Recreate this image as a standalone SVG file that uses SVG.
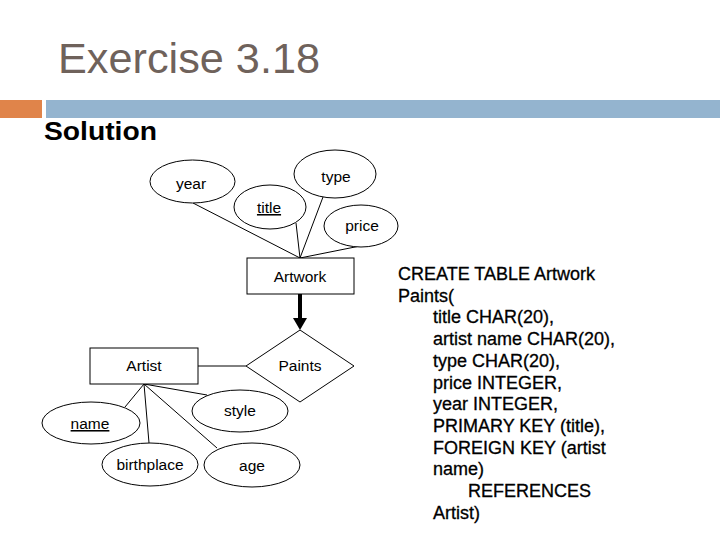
<svg xmlns="http://www.w3.org/2000/svg" width="720" height="540" viewBox="0 0 720 540">
<defs>
<style>
.lbl{font-family:"Liberation Sans",Arial,sans-serif;font-size:15.5px;fill:#000;text-anchor:middle}
.u{text-decoration:underline}
.shape{fill:#fff;stroke:#000;stroke-width:1}
.conn{stroke:#000;stroke-width:1;fill:none}
.sql{font-family:"Liberation Sans",Arial,sans-serif;font-size:18px;fill:#000;stroke:#000;stroke-width:0.3}
</style>
</defs>
<rect width="720" height="540" fill="#fff"/>
<text x="58" y="73" font-family="'Liberation Sans',Arial,sans-serif" font-size="43" fill="#6f625b" textLength="262" lengthAdjust="spacingAndGlyphs">Exercise 3.18</text>
<rect x="0" y="100" width="42" height="18" fill="#e0844a"/>
<rect x="46" y="100" width="674" height="18" fill="#94b4cf"/>
<text x="44" y="140" font-family="'Liberation Sans',Arial,sans-serif" font-size="26" font-weight="bold" fill="#000" textLength="113" lengthAdjust="spacingAndGlyphs">Solution</text>

<g id="connectors">
<line class="conn" x1="193" y1="203" x2="300" y2="258"/>
<line class="conn" x1="296" y1="223" x2="300" y2="258"/>
<line class="conn" x1="323" y1="197" x2="300" y2="258"/>
<line class="conn" x1="360" y1="246" x2="300" y2="258"/>
<line x1="300" y1="294" x2="300" y2="319" stroke="#000" stroke-width="4"/>
<polygon points="293,318 307,318 300,330" fill="#000"/>
<line class="conn" x1="198" y1="366" x2="246" y2="366"/>
<line class="conn" x1="144" y1="384" x2="125" y2="407"/>
<line class="conn" x1="144" y1="384" x2="149" y2="443"/>
<line class="conn" x1="144" y1="384" x2="217" y2="448"/>
<line class="conn" x1="144" y1="384" x2="207" y2="395"/>
</g>

<g id="year"><ellipse class="shape" cx="192.5" cy="181.5" rx="42.5" ry="21.5"/><text class="lbl" x="191" y="189">year</text></g>
<g id="type"><ellipse class="shape" cx="335" cy="174" rx="41" ry="24"/><text class="lbl" x="336" y="182">type</text></g>
<g id="title"><ellipse class="shape" cx="270" cy="207" rx="36" ry="22"/><text class="lbl u" x="269" y="213">title</text></g>
<g id="price"><ellipse class="shape" cx="361" cy="226" rx="37" ry="21"/><text class="lbl" x="362" y="231">price</text></g>
<g id="artwork"><rect class="shape" x="247" y="258" width="107" height="36"/><text class="lbl" x="300" y="282">Artwork</text></g>
<g id="paints"><polygon class="shape" points="300,330 354,366 300,402 246,366"/><text class="lbl" x="300" y="371">Paints</text></g>
<g id="artist"><rect class="shape" x="90" y="348" width="108" height="36"/><text class="lbl" x="144" y="371">Artist</text></g>
<g id="name"><ellipse class="shape" cx="91" cy="423" rx="49" ry="21"/><text class="lbl u" x="90" y="429">name</text></g>
<g id="style"><ellipse class="shape" cx="240" cy="411" rx="48" ry="21"/><text class="lbl" x="240" y="416">style</text></g>
<g id="birthplace"><ellipse class="shape" cx="150" cy="464.5" rx="48" ry="21.5"/><text class="lbl" x="150" y="470">birthplace</text></g>
<g id="age"><ellipse class="shape" cx="252" cy="465" rx="48" ry="22"/><text class="lbl" x="252" y="471">age</text></g>

<g id="sql">
<text class="sql" x="398" y="280">CREATE TABLE Artwork</text>
<text class="sql" x="398" y="301.7">Paints(</text>
<text class="sql" x="433" y="323.4">title CHAR(20),</text>
<text class="sql" x="433" y="345.1">artist name CHAR(20),</text>
<text class="sql" x="433" y="366.8">type CHAR(20),</text>
<text class="sql" x="433" y="388.5">price INTEGER,</text>
<text class="sql" x="433" y="410.2">year INTEGER,</text>
<text class="sql" x="433" y="431.9">PRIMARY KEY (title),</text>
<text class="sql" x="433" y="453.6">FOREIGN KEY (artist</text>
<text class="sql" x="433" y="475.3">name)</text>
<text class="sql" x="468" y="497">REFERENCES</text>
<text class="sql" x="433" y="518.7">Artist)</text>
</g>
</svg>
